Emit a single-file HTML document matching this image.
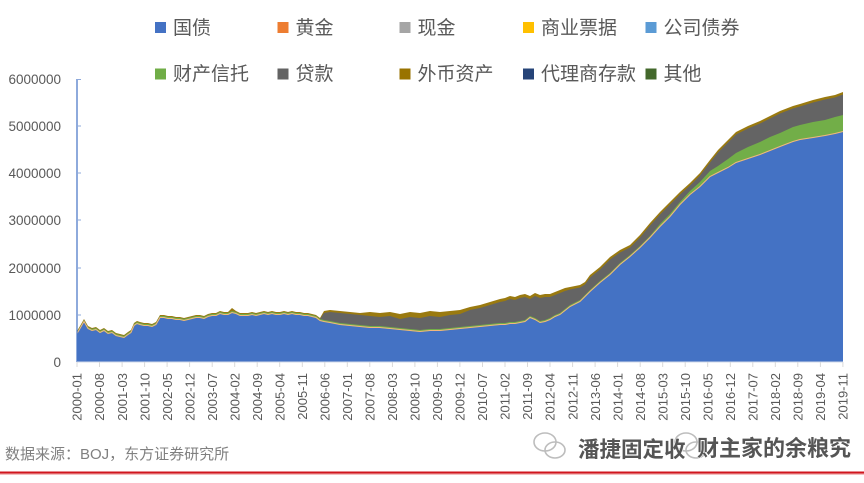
<!DOCTYPE html>
<html><head><meta charset="utf-8"><style>
html,body{margin:0;padding:0;background:#fff;}
svg{display:block;}
text{font-family:"Liberation Sans","Noto Sans CJK SC",sans-serif;}
</style></head><body>
<svg width="864" height="483" viewBox="0 0 864 483" xmlns="http://www.w3.org/2000/svg">
<rect width="864" height="483" fill="#fff"/>
<!-- legend -->
<g font-size="19" fill="#595959">
<rect x="155" y="22" width="11" height="11" fill="#4472C4"/><text x="173" y="34">国债</text>
<rect x="277.5" y="22" width="11" height="11" fill="#ED7D31"/><text x="295.5" y="34">黄金</text>
<rect x="399.5" y="22" width="11" height="11" fill="#A5A5A5"/><text x="417.5" y="34">现金</text>
<rect x="523" y="22" width="11" height="11" fill="#FFC000"/><text x="541" y="34">商业票据</text>
<rect x="645.5" y="22" width="11" height="11" fill="#5B9BD5"/><text x="663.5" y="34">公司债券</text>
<rect x="155" y="68.5" width="11" height="11" fill="#70AD47"/><text x="173" y="80">财产信托</text>
<rect x="277.5" y="68.5" width="11" height="11" fill="#636363"/><text x="295.5" y="80">贷款</text>
<rect x="399.5" y="68.5" width="11" height="11" fill="#997300"/><text x="417.5" y="80">外币资产</text>
<rect x="523" y="68.5" width="11" height="11" fill="#264478"/><text x="541" y="80">代理商存款</text>
<rect x="645.5" y="68.5" width="11" height="11" fill="#43682B"/><text x="663.5" y="80">其他</text>
</g>
<!-- y labels -->
<g font-size="13.5" fill="#595959" text-anchor="end">
<text x="61" y="84">6000000</text>
<text x="61" y="131">5000000</text>
<text x="61" y="178">4000000</text>
<text x="61" y="225">3000000</text>
<text x="61" y="273">2000000</text>
<text x="61" y="320">1000000</text>
<text x="61" y="367">0</text>
</g>
<!-- areas -->
<polygon fill="#9A7A10" points="77,362 77,331 80,326 84,319 88,326 92,328 96,327 100,330 104,328 108,331 112,330 116,333 120,334 124,335 128,332 131,330 134,323 137,321 140,322 144,323 148,323 152,324 156,322 160,315 164,315 168,316 172,316 176,317 180,317 184,318 188,317 192,316 196,315 200,315 204,316 208,314 212,313 216,313 220,311 224,312 228,312 232,308 236,311 240,313 244,313 248,313 252,312 256,313 260,312 264,311 268,312 272,311 276,312 280,312 284,311 288,312 292,311 296,312 300,312 304,313 308,313 312,314 316,315 320,318 324,311 330,310 340,311 350,312 360,313 370,312 380,313 390,312 400,314 410,312 420,313 430,311 440,312 450,311 460,310 470,307 480,305 490,302 500,299 505,298 510,296 515,297 520,295 525,294 530,296 535,293 540,295 545,294 550,294 555,292 560,290 565,288 570,287 580,285 585,282 590,275 600,267 610,257 620,250 630,245 640,235 650,223 660,212 670,202 680,192 690,183 700,173 710,160 718,150 728,140 736,132 748,126 760,121 770,116 780,111 793,106 800,104 813,100 825,97 835,95 843,92 843,362"/>
<polygon fill="#646464" points="77,362 77,332 80,327 84,320 88,327 92,329 96,328 100,331 104,329 108,332 112,331 116,334 120,335 124,336 128,333 131,331 134,324 137,322 140,323 144,324 148,324 152,325 156,323 160,316 164,316 168,317 172,317 176,318 180,318 184,319 188,318 192,317 196,316 200,316 204,317 208,315 212,314 216,314 220,312 224,313 228,313 232,311 236,312 240,314 244,314 248,314 252,313 256,314 260,313 264,312 268,313 272,312 276,313 280,313 284,312 288,313 292,312 296,313 300,313 304,314 308,314 312,315 316,316 320,319 324,313 330,312 340,313 350,314 360,315 370,316 380,317 390,316 400,319 410,317 420,318 430,316 440,317 450,315 460,314 470,310 480,308 490,305 500,302 505,301 510,299 515,300 520,298 525,297 530,299 535,296 540,298 545,297 550,297 555,295 560,293 565,291 570,289.5 580,287.5 585,284.5 590,277.5 600,269.5 610,259.5 620,252.5 630,247.5 640,237.5 650,225.5 660,214.5 670,204.5 680,194.5 690,185.5 700,175.5 710,162.5 718,152.5 728,142.5 736,134.5 748,128.5 760,123.5 770,118.5 780,113.5 793,108.5 800,106.5 813,102.5 825,99.5 835,97.5 843,94.5 843,362"/>
<polygon fill="#72AE48" points="77,362 77,332 80,327 84,320 88,327 92,329 96,328 100,331 104,329 108,332 112,331 116,334 120,335 124,336 128,333 131,331 134,324 137,322 140,323 144,324 148,324 152,325 156,323 160,316 164,316 168,317 172,317 176,318 180,318 184,319 188,318 192,317 196,316 200,316 204,317 208,315 212,314 216,314 220,312 224,313 228,313 232,311 236,312 240,314 244,314 248,314 252,313 256,314 260,313 264,312 268,313 272,312 276,313 280,313 284,312 288,313 292,312 296,313 300,313 304,314 308,314 312,315 316,316 320,319 324,320 330,321 340,323 350,324 360,325 370,326 380,326 390,327 400,328 410,329 420,330 430,329 440,329 450,328 460,327 470,326 480,325 490,324 500,323 505,323 510,322 515,322 520,321 525,320 530,316 535,318 540,321 545,320 550,318 555,315 560,313 565,309 570,305 580,300 585,295 590,290 600,281 610,273 620,263 630,255 640,246 650,236 660,224 670,214 680,202 690,191 700,182 710,171 718,166 728,159 736,153 748,147 760,142 770,137 780,133 793,127 800,125 813,122 825,120 835,117 843,115 843,362"/>
<polygon fill="#4472C4" points="77,362 77,334 80,329 84,322 88,329 92,331 96,330 100,333 104,331 108,334 112,333 116,336 120,337 124,338 128,335 131,333 134,326 137,324 140,325 144,326 148,326 152,327 156,325 160,318 164,318 168,319 172,319 176,320 180,320 184,321 188,320 192,319 196,318 200,318 204,319 208,317 212,316 216,316 220,314 224,315 228,315 232,313 236,314 240,316 244,316 248,316 252,315 256,316 260,315 264,314 268,315 272,314 276,315 280,315 284,314 288,315 292,314 296,315 300,315 304,316 308,316 312,317 316,318 320,321 324,322 330,323 340,325 350,326 360,327 370,328 380,328 390,329 400,330 410,331 420,332 430,331 440,331 450,330 460,329 470,328 480,327 490,326 500,325 505,325 510,324 515,324 520,323 525,322 530,318 535,320 540,323 545,322 550,320 555,317 560,315 565,311 570,307 580,302 585,297 590,292 600,283 610,275 620,265 630,257 640,248 650,238 660,227 670,217 680,205 690,195 700,187 710,177 718,173 728,168 736,163 748,159 760,155 770,151 780,147 793,142 800,140 813,138 825,136 835,134 843,132 843,362"/>
<polyline fill="none" stroke="#F2B77E" stroke-width="1" points="77,333.5 80,328.5 84,321.5 88,328.5 92,330.5 96,329.5 100,332.5 104,330.5 108,333.5 112,332.5 116,335.5 120,336.5 124,337.5 128,334.5 131,332.5 134,325.5 137,323.5 140,324.5 144,325.5 148,325.5 152,326.5 156,324.5 160,317.5 164,317.5 168,318.5 172,318.5 176,319.5 180,319.5 184,320.5 188,319.5 192,318.5 196,317.5 200,317.5 204,318.5 208,316.5 212,315.5 216,315.5 220,313.5 224,314.5 228,314.5 232,312.5 236,313.5 240,315.5 244,315.5 248,315.5 252,314.5 256,315.5 260,314.5 264,313.5 268,314.5 272,313.5 276,314.5 280,314.5 284,313.5 288,314.5 292,313.5 296,314.5 300,314.5 304,315.5 308,315.5 312,316.5 316,317.5 320,320.5 324,321.5 330,322.5 340,324.5 350,325.5 360,326.5 370,327.5 380,327.5 390,328.5 400,329.5 410,330.5 420,331.5 430,330.5 440,330.5 450,329.5 460,328.5 470,327.5 480,326.5 490,325.5 500,324.5 505,324.5 510,323.5 515,323.5 520,322.5 525,321.5 530,317.5 535,319.5 540,322.5 545,321.5 550,319.5 555,316.5 560,314.5 565,310.5 570,306.5 580,301.5 585,296.5 590,291.5 600,282.5 610,274.5 620,264.5 630,256.5 640,247.5 650,237.5 660,226.5 670,216.5 680,204.5 690,194.5 700,186.5 710,176.5 718,172.5 728,167.5 736,162.5 748,158.5 760,154.5 770,150.5 780,146.5 793,141.5 800,139.5 813,137.5 825,135.5 835,133.5 843,131.5"/>
<!-- axes -->
<line x1="77" y1="79" x2="77" y2="362" stroke="#4472C4" stroke-width="1.2"/>
<g stroke="#8EA9DB" stroke-width="1">
<line x1="77" y1="79.5" x2="81" y2="79.5"/><line x1="77" y1="126" x2="81" y2="126"/><line x1="77" y1="173" x2="81" y2="173"/><line x1="77" y1="220" x2="81" y2="220"/><line x1="77" y1="268" x2="81" y2="268"/><line x1="77" y1="315" x2="81" y2="315"/>
</g>
<line x1="77" y1="362" x2="843" y2="362" stroke="#D0D8E8" stroke-width="1"/>
<g stroke="#D9D9D9" stroke-width="1">
<line x1="77" y1="362" x2="77" y2="367"/><line x1="99.5" y1="362" x2="99.5" y2="367"/><line x1="122.1" y1="362" x2="122.1" y2="367"/><line x1="144.6" y1="362" x2="144.6" y2="367"/><line x1="167.1" y1="362" x2="167.1" y2="367"/><line x1="189.6" y1="362" x2="189.6" y2="367"/><line x1="212.2" y1="362" x2="212.2" y2="367"/><line x1="234.7" y1="362" x2="234.7" y2="367"/><line x1="257.2" y1="362" x2="257.2" y2="367"/><line x1="279.7" y1="362" x2="279.7" y2="367"/><line x1="302.3" y1="362" x2="302.3" y2="367"/><line x1="324.8" y1="362" x2="324.8" y2="367"/><line x1="347.3" y1="362" x2="347.3" y2="367"/><line x1="369.8" y1="362" x2="369.8" y2="367"/><line x1="392.4" y1="362" x2="392.4" y2="367"/><line x1="414.9" y1="362" x2="414.9" y2="367"/><line x1="437.4" y1="362" x2="437.4" y2="367"/><line x1="459.9" y1="362" x2="459.9" y2="367"/><line x1="482.5" y1="362" x2="482.5" y2="367"/><line x1="505" y1="362" x2="505" y2="367"/><line x1="527.5" y1="362" x2="527.5" y2="367"/><line x1="550" y1="362" x2="550" y2="367"/><line x1="572.6" y1="362" x2="572.6" y2="367"/><line x1="595.1" y1="362" x2="595.1" y2="367"/><line x1="617.6" y1="362" x2="617.6" y2="367"/><line x1="640.2" y1="362" x2="640.2" y2="367"/><line x1="662.7" y1="362" x2="662.7" y2="367"/><line x1="685.2" y1="362" x2="685.2" y2="367"/><line x1="707.7" y1="362" x2="707.7" y2="367"/><line x1="730.3" y1="362" x2="730.3" y2="367"/><line x1="752.8" y1="362" x2="752.8" y2="367"/><line x1="775.3" y1="362" x2="775.3" y2="367"/><line x1="797.8" y1="362" x2="797.8" y2="367"/><line x1="820.4" y1="362" x2="820.4" y2="367"/><line x1="842.9" y1="362" x2="842.9" y2="367"/>
</g>
<!-- x labels -->
<g font-size="13" fill="#595959" text-anchor="end">
<text transform="translate(81.7,373) rotate(-90)">2000-01</text>
<text transform="translate(104.2,373) rotate(-90)">2000-08</text>
<text transform="translate(126.8,373) rotate(-90)">2001-03</text>
<text transform="translate(149.3,373) rotate(-90)">2001-10</text>
<text transform="translate(171.8,373) rotate(-90)">2002-05</text>
<text transform="translate(194.3,373) rotate(-90)">2002-12</text>
<text transform="translate(216.9,373) rotate(-90)">2003-07</text>
<text transform="translate(239.4,373) rotate(-90)">2004-02</text>
<text transform="translate(261.9,373) rotate(-90)">2004-09</text>
<text transform="translate(284.4,373) rotate(-90)">2005-04</text>
<text transform="translate(307,373) rotate(-90)">2005-11</text>
<text transform="translate(329.5,373) rotate(-90)">2006-06</text>
<text transform="translate(352,373) rotate(-90)">2007-01</text>
<text transform="translate(374.5,373) rotate(-90)">2007-08</text>
<text transform="translate(397.1,373) rotate(-90)">2008-03</text>
<text transform="translate(419.6,373) rotate(-90)">2008-10</text>
<text transform="translate(442.1,373) rotate(-90)">2009-05</text>
<text transform="translate(464.6,373) rotate(-90)">2009-12</text>
<text transform="translate(487.2,373) rotate(-90)">2010-07</text>
<text transform="translate(509.7,373) rotate(-90)">2011-02</text>
<text transform="translate(532.2,373) rotate(-90)">2011-09</text>
<text transform="translate(554.7,373) rotate(-90)">2012-04</text>
<text transform="translate(577.3,373) rotate(-90)">2012-11</text>
<text transform="translate(599.8,373) rotate(-90)">2013-06</text>
<text transform="translate(622.3,373) rotate(-90)">2014-01</text>
<text transform="translate(644.9,373) rotate(-90)">2014-08</text>
<text transform="translate(667.4,373) rotate(-90)">2015-03</text>
<text transform="translate(689.9,373) rotate(-90)">2015-10</text>
<text transform="translate(712.4,373) rotate(-90)">2016-05</text>
<text transform="translate(735,373) rotate(-90)">2016-12</text>
<text transform="translate(757.5,373) rotate(-90)">2017-07</text>
<text transform="translate(780,373) rotate(-90)">2018-02</text>
<text transform="translate(802.5,373) rotate(-90)">2018-09</text>
<text transform="translate(825.1,373) rotate(-90)">2019-04</text>
<text transform="translate(847.6,373) rotate(-90)">2019-11</text>
</g>
<!-- source -->
<text x="5" y="459" font-size="15" fill="#808080">数据来源：BOJ，东方证券研究所</text>
<!-- watermark -->
<g fill="none" stroke="#bdbdbd" stroke-width="1.6">
<ellipse cx="545" cy="442" rx="11" ry="9"/><ellipse cx="555" cy="450" rx="10" ry="8"/>
<ellipse cx="686" cy="442" rx="11" ry="9"/><ellipse cx="696" cy="450" rx="10" ry="8"/>
</g>
<g font-size="21.5" fill="#555555" stroke="#ffffff" stroke-width="0.8" font-weight="bold" paint-order="stroke">
<text x="578" y="457">潘捷固定收</text>
<text x="697" y="456" font-size="22">财主家的余粮究</text>
</g>
<!-- bottom red line -->
<rect x="0" y="471.5" width="864" height="2.2" fill="#D0161E"/>
<rect x="0" y="473.7" width="864" height="1.2" fill="#F2B8B8"/>
</svg>
</body></html>
